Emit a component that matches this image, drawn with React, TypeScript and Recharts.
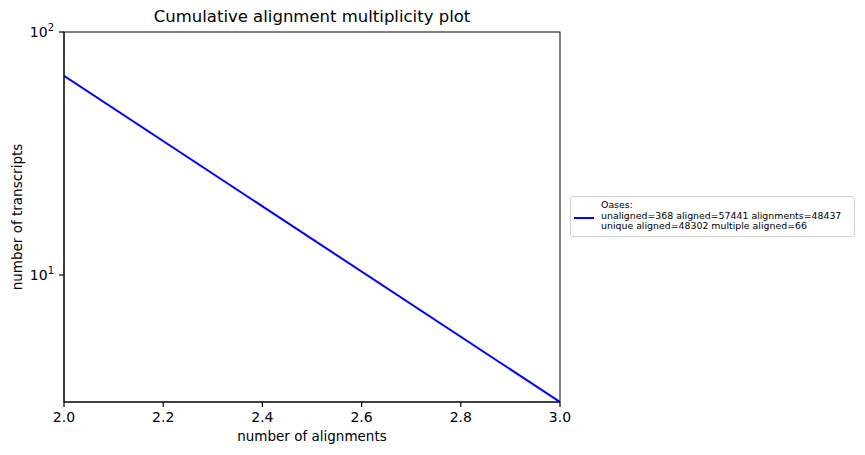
import React from "react";
import { LineChart, Line, XAxis, YAxis } from "recharts";

const alignments = [2, 3];
const transcripts = [66, 3];
const xTicks = [2.0, 2.2, 2.4, 2.6, 2.8, 3.0];
const yTicks = [10, 100];
const seriesName = "Oases:";
const legendLines = [
  "Oases:",
  "unaligned=368 aligned=57441 alignments=48437",
  "unique aligned=48302 multiple aligned=66",
];

const data = alignments.map((a, i) => ({ x: a, y: transcripts[i] }));

const FONT = "DejaVu Sans";

const YTick = (props: any) => {
  const { x, y, payload } = props;
  const exp = Math.round(Math.log10(payload.value));
  return (
    <g>
      <line x1={x + 2} x2={x + 7} y1={y} y2={y} stroke="#000" strokeWidth={1.2} />
      <text x={x - 3} y={y + 5} textAnchor="end" fontFamily={FONT} fontSize={14} fill="#000">
        10
        <tspan dy={-6} fontSize={10}>{exp}</tspan>
      </text>
    </g>
  );
};

const XTick = (props: any) => {
  const { x, y, payload } = props;
  return (
    <g>
      <line x1={x} x2={x} y1={y - 7} y2={y - 2} stroke="#000" strokeWidth={1.2} />
      <text x={x} y={y + 13} textAnchor="middle" fontFamily={FONT} fontSize={14} fill="#000">
        {payload.value.toFixed(1)}
      </text>
    </g>
  );
};

const LegendBox = () => (
  <div
    style={{
      position: "absolute",
      left: 570,
      top: 196,
      width: 285,
      height: 41,
      border: "1px solid #d0d0d0",
      borderRadius: 3,
      background: "#fff",
      boxSizing: "border-box",
      fontFamily: FONT,
      fontSize: 9.4,
      lineHeight: "10.6px",
      color: "#000",
    }}
  >
    <div style={{ position: "absolute", left: 3, top: 20, width: 20, height: 2, background: "#0000ff" }} />
    <div style={{ position: "absolute", left: 30, top: 3, whiteSpace: "pre" }}>
      {legendLines.map((l, i) => (
        <div key={i}>{l}</div>
      ))}
    </div>
  </div>
);

export default function App() {
  return (
    <div style={{ position: "absolute", left: 0, top: 0, width: 865, height: 455, background: "#fff" }}>
      <LineChart
        width={865}
        height={455}
        data={data}
        margin={{ top: 32, right: 305, bottom: 0, left: 0 }}
      >
        <XAxis
          dataKey="x"
          type="number"
          domain={[2, 3]}
          ticks={xTicks}
          height={53}
          axisLine={{ stroke: "#000", strokeWidth: 1 }}
          tickLine={false}
          tickSize={5}
          tick={<XTick />}
          allowDataOverflow
        />
        <YAxis
          dataKey="y"
          scale="log"
          type="number"
          domain={[3, 100]}
          ticks={yTicks}
          width={64}
          axisLine={{ stroke: "#000", strokeWidth: 1 }}
          tickLine={false}
          tickSize={5}
          tick={<YTick />}
          allowDataOverflow
        />
        <Line
          type="linear"
          dataKey="y"
          name={seriesName}
          stroke="#0000ff"
          strokeWidth={2}
          dot={false}
          isAnimationActive={false}
        />
      </LineChart>
      <svg
        width={865}
        height={455}
        style={{ position: "absolute", left: 0, top: 0, pointerEvents: "none" }}
      >
        <rect x={64} y={32} width={496} height={370} fill="none" stroke="#000" strokeWidth={1} />
      </svg>
      <div
        style={{
          position: "absolute",
          left: 64,
          width: 496,
          top: 7,
          textAlign: "center",
          fontFamily: FONT,
          fontSize: 16.5,
          color: "#000",
        }}
      >
        Cumulative alignment multiplicity plot
      </div>
      <div
        style={{
          position: "absolute",
          left: 64,
          width: 496,
          top: 428,
          textAlign: "center",
          fontFamily: FONT,
          fontSize: 13.5,
          color: "#000",
        }}
      >
        number of alignments
      </div>
      <div
        style={{
          position: "absolute",
          left: 17,
          top: 217,
          transform: "translate(-50%, -50%) rotate(-90deg)",
          whiteSpace: "nowrap",
          fontFamily: FONT,
          fontSize: 13.5,
          color: "#000",
        }}
      >
        number of transcripts
      </div>
      <LegendBox />
    </div>
  );
}
